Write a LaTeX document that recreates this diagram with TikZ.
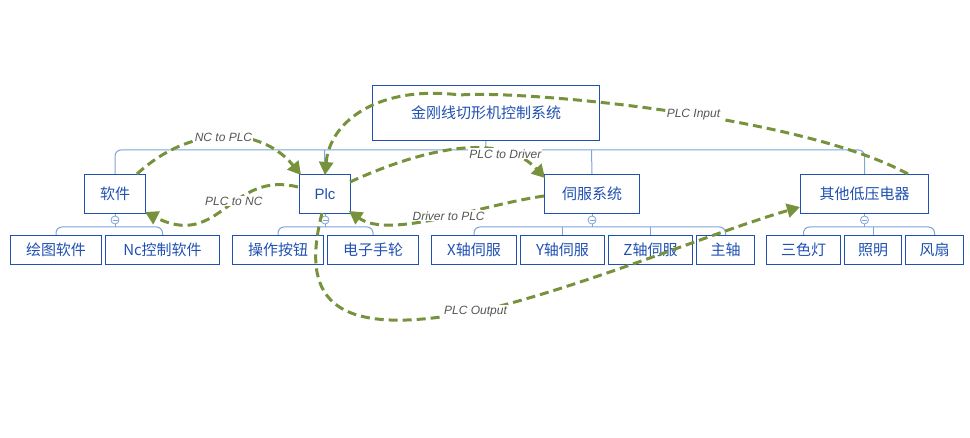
\documentclass[tikz,border=0pt]{standalone}
\usepackage{fontspec}
\setmainfont{Liberation Sans}
\newfontfamily\cjk{Noto Sans CJK SC}
\usetikzlibrary{arrows.meta}
\definecolor{bx}{HTML}{2050B0}
\definecolor{ln}{HTML}{7FA3DB}
\definecolor{ol}{HTML}{76923C}
\definecolor{lb}{HTML}{555555}
\begin{document}
\begin{tikzpicture}[x=1pt,y=-1pt,
 box/.style={draw=bx,line width=1pt,text=bx,font=\cjk\fontsize{15}{15}\selectfont,inner sep=0pt,anchor=north west},
 tree/.style={draw=ln,line width=1pt,rounded corners=6pt},
 rel/.style={draw=ol,line width=3pt,dash pattern=on 9pt off 5pt,-{Triangle[length=13pt,width=14pt]}},
 lab/.style={fill=white,text=lb,font=\itshape\fontsize{12}{12}\selectfont,inner sep=1pt},
 mn/.style={circle,draw=ln,line width=0.8pt,fill=white,minimum size=8pt,inner sep=0pt}]
\useasboundingbox (0,0) rectangle (970,438);
\newcommand\bx[6]{\node[box,minimum width=#4-#2,minimum height=#5-#3] (#1) at (#2,#3) {#6};}
\bx{root}{372}{85}{599}{140}{金刚线切形机控制系统}
\bx{sw}{84}{174}{145}{213}{软件}
\bx{plc}{299}{174}{350}{213}{\fontspec{Liberation Sans}Plc}
\bx{sv}{544}{174}{639}{213}{伺服系统}
\bx{ot}{800}{174}{928}{213}{其他低压电器}
\bx{a1}{10}{235}{101}{264}{绘图软件}
\bx{a2}{105}{235}{219}{264}{Nc控制软件}
\bx{b1}{232}{235}{323}{264}{操作按钮}
\bx{b2}{327}{235}{418}{264}{电子手轮}
\bx{c1}{431}{235}{516}{264}{X轴伺服}
\bx{c2}{520}{235}{604}{264}{Y轴伺服}
\bx{c3}{608}{235}{692}{264}{Z轴伺服}
\bx{c4}{696}{235}{754}{264}{主轴}
\bx{d1}{766}{235}{840}{264}{三色灯}
\bx{d2}{844}{235}{901}{264}{照明}
\bx{d3}{905}{235}{963}{264}{风扇}
% tree
\draw[tree] (root.south) -- (485.5,150);
\draw[tree] (sw.north) |- (ot.north |- 0,150) -- (ot.north);
\draw[tree] (plc.north) -- (324.5,150);
\draw[tree] (sv.north) -- (591.5,150);
\foreach \p/\f/\l/\m in {sw/a1/a2/a1, plc/b1/b2/b1, sv/c1/c4/c2, ot/d1/d3/d2}{
  \draw[tree] (\f.north) |- (\l.north |- 0,227) -- (\l.north);
  \draw[tree] (\p.south) -- (\p.south |- 0,227);
  \node[mn] (m\p) at (\p.south |- 0,220) {};
  \draw[ln,line width=0.8pt] ([xshift=-2.5pt]m\p.center) -- ([xshift=2.5pt]m\p.center);
}
\draw[tree] (c2.north) -- (c2.north |- 0,227);
\draw[tree] (c3.north) -- (c3.north |- 0,227);
\draw[tree] (d2.north) -- (d2.north |- 0,227);
% relations
\draw[rel] (137,174) .. controls (190,125) and (260,125) .. node[lab,pos=0.5]{NC to PLC} (301,175);
\draw[rel] (298,187) .. controls (230,170) and (220,250) .. node[lab,pos=0.42]{PLC to NC} (145,212);
\draw[rel] (908,174) .. controls (800,115) and (520,90) .. node[lab,pos=0.45]{PLC Input} (460,95)
  .. controls (380,85) and (330,120) .. (325,175);
\draw[rel] (350,182) .. controls (420,150) and (500,130) .. node[lab,pos=0.75]{PLC to Driver} (545,178);
\draw[rel] (544,196) .. controls (480,205) and (390,240) .. node[lab,pos=0.45]{Driver to PLC} (349,211);
\draw[rel] (322,213) .. controls (300,300) and (330,345) .. node[lab,pos=0.95]{PLC Output} (500,306)
  .. controls (600,280) and (720,230) .. (800,207);
\end{tikzpicture}
\end{document}
